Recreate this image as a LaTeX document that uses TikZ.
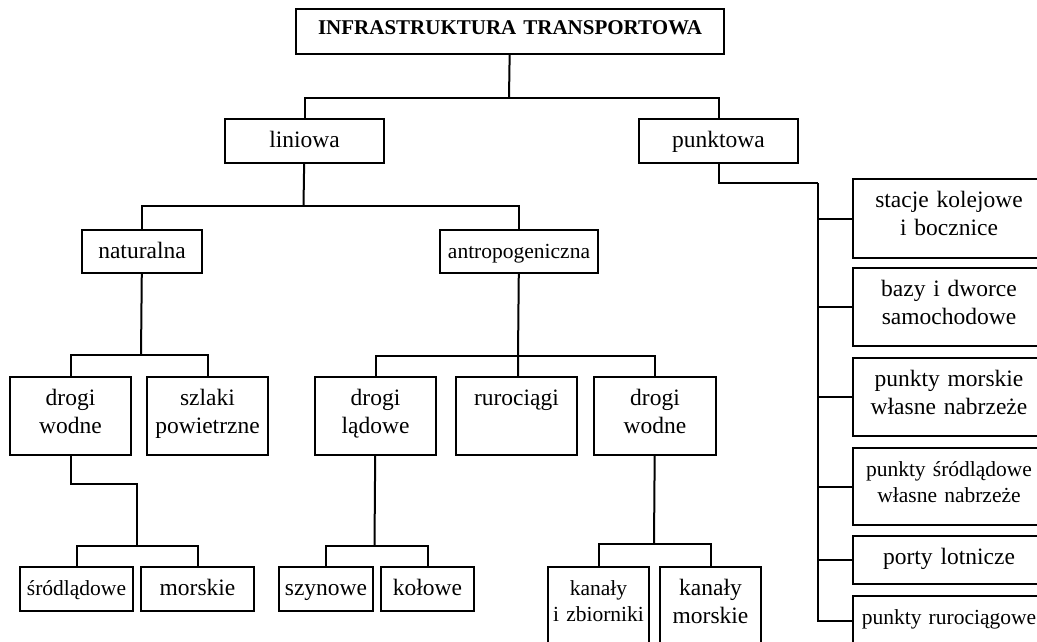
\documentclass[tikz,border=0pt]{standalone}
\usepackage{fontspec}
\setmainfont{Liberation Serif}
\begin{document}
\begin{tikzpicture}[x=1pt, y=-1pt,
    box/.style={draw, line width=2pt, inner sep=0pt, anchor=north west, align=center,
        text height=28.5pt, font=\fontsize{23.5}{27.5}\selectfont},
    smalltext/.style={font=\fontsize{21.5}{25.5}\selectfont},
    link/.style={line width=2pt}]

    \clip (0, 0) rectangle (1037, 642);

    \node[box, text width=428pt, text height=25.5pt, text depth=19.5pt, font=\fontsize{21}{24}\selectfont\bfseries] (infra) at (295, 8) {INFRASTRUKTURA TRANSPORTOWA};

    \node[box, text width=159pt, text depth=15.5pt] (liniowa) at (224, 118) {liniowa};
    \node[box, text width=159pt, text depth=15.5pt] (punktowa) at (638, 118) {punktowa};

    \node[box, text width=120pt, text depth=14.5pt] (naturalna) at (81, 229) {naturalna};
    \node[box, smalltext, text width=158pt, text depth=14.5pt] (antrop) at (439, 229) {antropogeniczna};

    \node[box, text width=121pt, text depth=49.5pt] (wodne1) at (9, 376) {drogi\\wodne};
    \node[box, text width=121pt, text depth=49.5pt] (szlaki) at (146, 376) {szlaki\\powietrzne};
    \node[box, text width=121pt, text depth=49.5pt] (ladowe) at (314, 376) {drogi\\lądowe};
    \node[box, text width=121pt, text depth=49.5pt] (ruro) at (455, 376) {rurociągi};
    \node[box, text width=122pt, text depth=49.5pt] (wodne2) at (593, 376) {drogi\\wodne};

    \node[box, smalltext, text width=113pt, text depth=15.5pt] (srodl) at (19, 566) {śródlądowe};
    \node[box, text width=113pt, text depth=15.5pt] (morskie) at (140, 566) {morskie};
    \node[box, text width=94pt, text depth=15.5pt] (szyn) at (278, 566) {szynowe};
    \node[box, text width=93pt, text depth=15.5pt] (kolowe) at (380, 566) {kołowe};
    \node[box, smalltext, text width=101pt, text depth=55.5pt] (kanaly1) at (547, 566) {kanały\\i zbiorniki};
    \node[box, text width=101pt, text depth=55.5pt] (kanaly2) at (659, 566) {kanały\\morskie};

    \node[box, text width=192pt, text depth=50.5pt] (stacje) at (852, 178) {stacje kolejowe\\i bocznice};
    \node[box, text width=192pt, text depth=49.5pt] (bazy) at (852, 267) {bazy i dworce\\samochodowe};
    \node[box, text width=192pt, text depth=49.5pt] (pmorskie) at (852, 357) {punkty morskie\\własne nabrzeże};
    \node[box, smalltext, text width=192pt, text depth=48.5pt] (psrodl) at (852, 447) {punkty śródlądowe\\własne nabrzeże};
    \node[box, text width=192pt, text depth=19.5pt] (porty) at (852, 535) {porty lotnicze};
    \node[box, smalltext, text width=192pt, text depth=21.5pt] (pruro) at (852, 595) {punkty rurociągowe};

    \coordinate (j1) at (509, 98);
    \coordinate (j2) at (303.5, 206);
    \coordinate (j3) at (141, 355);
    \coordinate (j4) at (518, 356);
    \coordinate (j5) at (137, 546);
    \coordinate (j6) at (374.5, 546);
    \coordinate (j7) at (654, 544);
    \coordinate (j8) at (818, 183);

    \draw[link] (infra) -- (j1);
    \draw[link] (liniowa) |- (j1) -| (punktowa);

    \draw[link] (liniowa) -- (j2);
    \draw[link] (naturalna) |- (j2) -| (antrop);

    \draw[link] (naturalna) -- (j3);
    \draw[link] (wodne1) |- (j3) -| (szlaki);

    \draw[link] (antrop) -- (j4) -- (j4 |- ruro.north);
    \draw[link] (ladowe) |- (j4) -| (wodne2);

    \draw[link] (wodne1.south) -- ++(0, 28) -| (j5);
    \draw[link] (srodl) |- (j5) -| (morskie);

    \draw[link] (ladowe) -- (j6);
    \draw[link] (szyn) |- (j6) -| (kolowe);

    \draw[link] (wodne2) -- (j7);
    \draw[link] (kanaly1) |- (j7) -| (kanaly2);

    \draw[link] (punktowa) |- (j8);
    \foreach \b in {stacje, bazy, pmorskie, psrodl, porty, pruro}
        \draw[link] (j8) |- (\b);

\end{tikzpicture}
\end{document}
